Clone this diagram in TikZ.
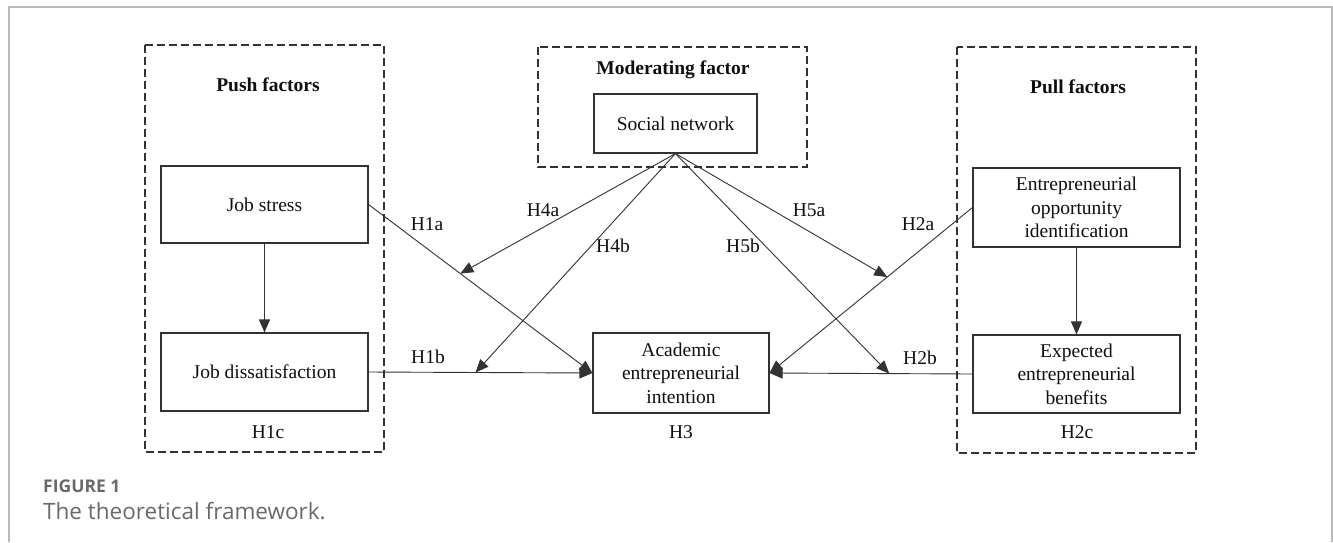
\documentclass[tikz,border=0pt]{standalone}
\usepackage{fontspec}
\setmainfont{Liberation Serif}
\newfontfamily\capfont{Open Sans}
\usetikzlibrary{arrows.meta,calc}
\definecolor{ln}{RGB}{50,50,50}
\definecolor{txt}{RGB}{15,15,15}
\definecolor{frm}{RGB}{185,185,185}
\definecolor{capc}{RGB}{105,105,105}
\begin{document}
\begin{tikzpicture}[x=1pt,y=-1pt,
  box/.style={draw=ln,line width=1.1pt,inner sep=0pt,align=center,text=txt,font=\fontsize{19.5}{23.5}\selectfont},
  grp/.style={draw=ln,line width=1.1pt,dash pattern=on 8pt off 4pt},
  conn/.style={draw=ln,line width=0.9pt,-{Triangle[length=13pt,width=11pt]}},
  lab/.style={font=\fontsize{19.5}{23}\selectfont,inner sep=0pt,text=txt},
  ttl/.style={font=\fontsize{19.5}{23}\selectfont\bfseries,inner sep=0pt,text=txt}]
\useasboundingbox (0,0) rectangle (1333,542);
\fill[white] (0,0) rectangle (1333,542);
% outer frame
\draw[frm,line width=2pt] (9,542) -- (9,6.5) -- (1332,6.5) -- (1332,542);
% group boxes
\draw[grp] (145,45) rectangle (384,452);
\draw[grp] (538,47) rectangle (807,167);
\draw[grp] (957,47) rectangle (1196,453);
\node[ttl] (tpush) at (268,85) {Push factors};
\node[ttl] (tmod) at (673,70) {Moderating factor};
\node[ttl] (tpull) at (1078,87) {Pull factors};
% boxes
\node[box,minimum width=207pt,minimum height=77pt] (js) at (264.5,204.5) {Job stress};
\node[box,minimum width=207pt,minimum height=78pt] (jd) at (264.5,372) {Job dissatisfaction};
\node[box,minimum width=163pt,minimum height=59pt] (sn) at (675.5,123.5) {Social network};
\node[box,minimum width=176pt,minimum height=80pt] (ac) at (681,373) {Academic\\entrepreneurial\\intention};
\node[box,minimum width=207pt,minimum height=79pt] (eoi) at (1076.5,207.5) {Entrepreneurial\\opportunity\\identification};
\node[box,minimum width=207pt,minimum height=78pt] (eeb) at (1076.5,374) {Expected\\entrepreneurial\\benefits};
% group labels
\node[lab] (h1c) at (268,432) {H1c};
\node[lab] (h3) at (681,432) {H3};
\node[lab] (h2c) at (1077,432) {H2c};
% connectors
\draw[conn] (js.south) -- (jd.north);
\draw[conn] (eoi.south) -- (eeb.north);
\draw[conn] (js.east) -- (ac.west);
\draw[conn] (jd.east) -- (ac.west);
\draw[conn] (eoi.west) -- (ac.east);
\draw[conn] (eeb.west) -- (ac.east);
\coordinate (t4a) at ($(js.east)!0.41!(ac.west)$);
\coordinate (t4b) at ($(jd.east)!0.478!(ac.west)$);
\coordinate (t5a) at ($(eoi.west)!0.42!(ac.east)$);
\coordinate (t5b) at ($(eeb.west)!0.41!(ac.east)$);
\draw[conn] (sn.south) -- (t4a);
\draw[conn] (sn.south) -- (t4b);
\draw[conn] (sn.south) -- (t5a);
\draw[conn] (sn.south) -- (t5b);
% hypothesis labels
\node[lab] (l1a) at (427,224) {H1a};
\node[lab] (l1b) at (428,357) {H1b};
\node[lab] (l4a) at (543,210) {H4a};
\node[lab] (l4b) at (613,246) {H4b};
\node[lab] (l5b) at (743,246) {H5b};
\node[lab] (l5a) at (809,210) {H5a};
\node[lab] (l2a) at (918,224) {H2a};
\node[lab] (l2b) at (920,358) {H2b};
% caption
\node[anchor=west,inner sep=0pt,text=capc,font={\capfont\fontsize{17.5}{20}\selectfont\bfseries}] (fig) at (43,486) {FIGURE 1};
\node[anchor=west,inner sep=0pt,text=capc,font={\capfont\fontsize{22.5}{26}\selectfont}] (cap) at (43,511) {The theoretical framework.};
\end{tikzpicture}
\end{document}
